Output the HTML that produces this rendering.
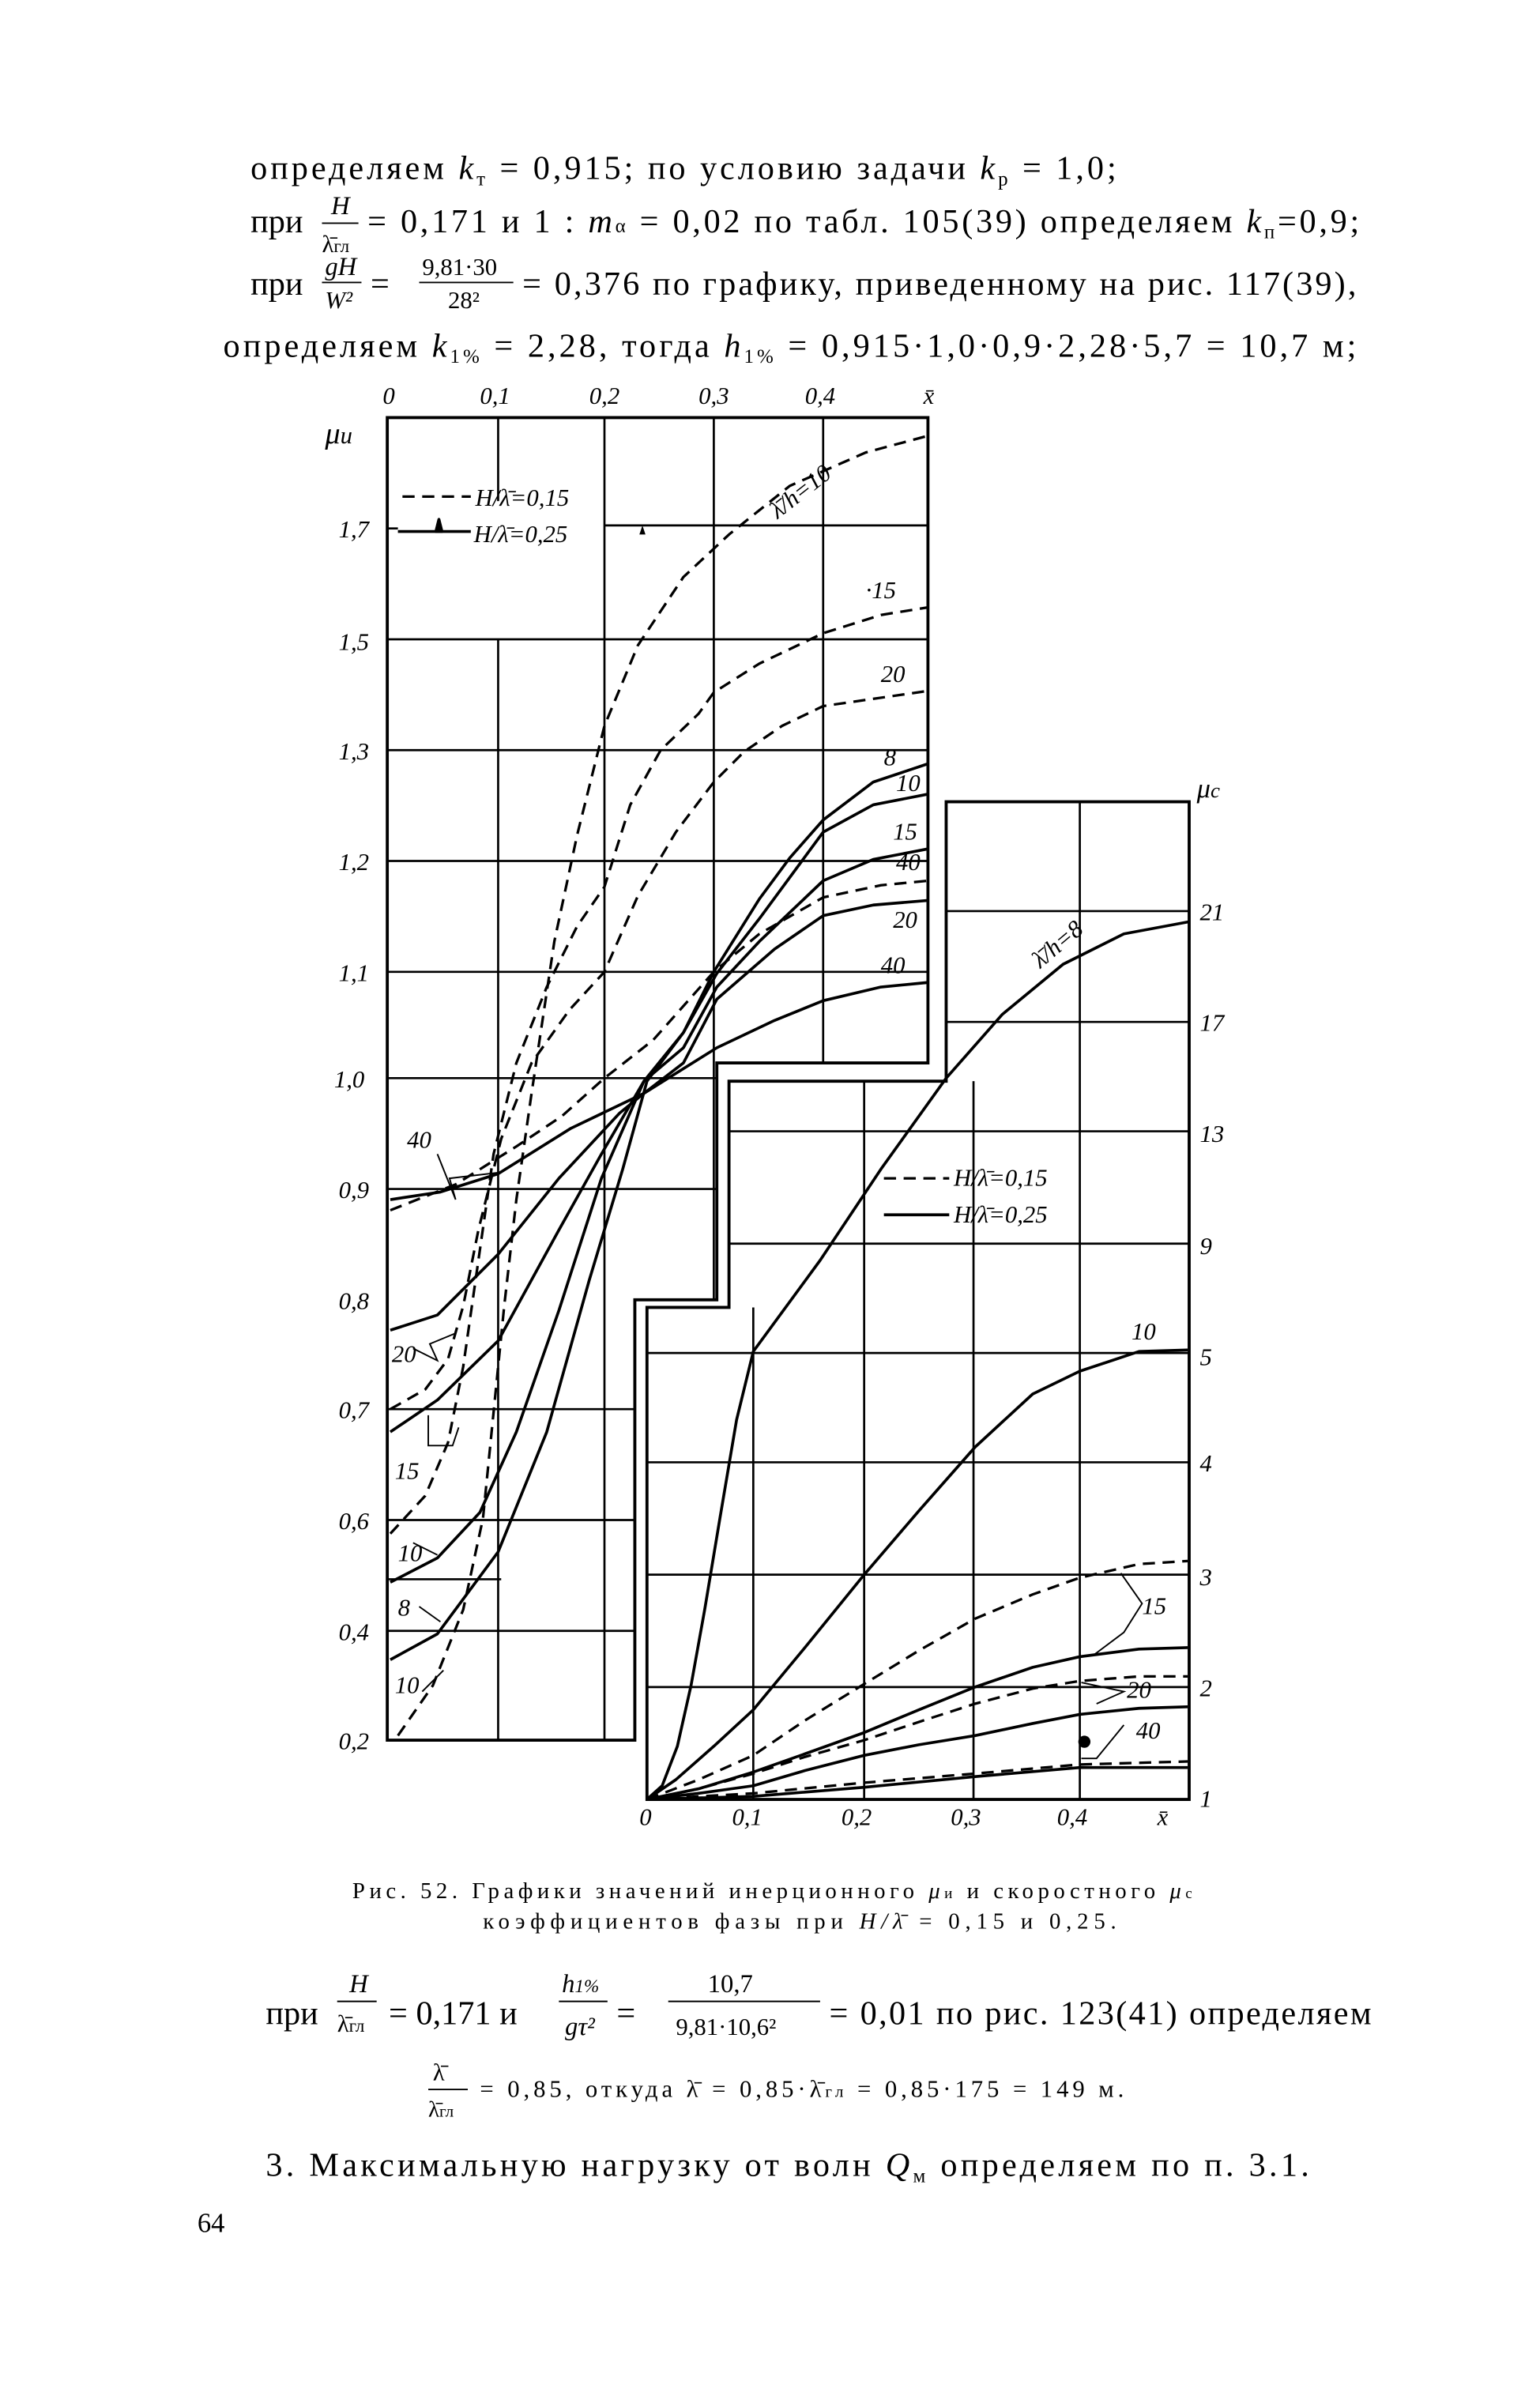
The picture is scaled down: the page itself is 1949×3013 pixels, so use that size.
<!DOCTYPE html>
<html><head><meta charset="utf-8"><style>
html,body{margin:0;padding:0;background:#fff}
svg{display:block}
text{font-family:"Liberation Serif",serif;fill:#000}
.i{font-family:"Liberation Sans",sans-serif;font-style:italic}
</style></head><body>
<svg width="1949" height="3013" viewBox="0 0 1014 1568" preserveAspectRatio="none" xmlns="http://www.w3.org/2000/svg">
<g font-size="22">
<text x="165" y="118" textLength="570" lengthAdjust="spacing">определяем <tspan font-style="italic">k</tspan><tspan font-size="13" dy="4">т</tspan><tspan dy="-4"> = 0,915; по условию задачи </tspan><tspan font-style="italic">k</tspan><tspan font-size="13" dy="4">р</tspan><tspan dy="-4"> = 1,0;</tspan></text>
<text x="165" y="153">при</text>
<text x="218" y="141" font-size="17" font-style="italic">H</text>
<line x1="212" y1="147" x2="236" y2="147" stroke="#000" stroke-width="1"/>
<text x="212" y="166" font-size="16">λ̄<tspan font-size="12">гл</tspan></text>
<text x="242" y="153" textLength="653" lengthAdjust="spacing">= 0,171 и 1 : <tspan font-style="italic">m</tspan><tspan font-size="13">α</tspan> = 0,02 по табл. 105(39) определяем <tspan font-style="italic">k</tspan><tspan font-size="13" dy="4">п</tspan><tspan dy="-4">=0,9;</tspan></text>
<text x="165" y="194">при</text>
<text x="214" y="181" font-size="17" font-style="italic">gH</text>
<line x1="212" y1="186" x2="238" y2="186" stroke="#000" stroke-width="1"/>
<text x="214" y="203" font-size="16" font-style="italic">W²</text>
<text x="244" y="194">=</text>
<text x="278" y="181" font-size="16">9,81·30</text>
<line x1="276" y1="186" x2="338" y2="186" stroke="#000" stroke-width="1"/>
<text x="295" y="203" font-size="16">28²</text>
<text x="344" y="194" textLength="549" lengthAdjust="spacing">= 0,376 по графику, приведенному на рис. 117(39),</text>
<text x="147" y="235" textLength="746" lengthAdjust="spacing">определяем  <tspan font-style="italic">k</tspan><tspan font-size="13" dy="4">1%</tspan><tspan dy="-4"> = 2,28,   тогда  </tspan><tspan font-style="italic">h</tspan><tspan font-size="13" dy="4">1%</tspan><tspan dy="-4"> = 0,915·1,0·0,9·2,28·5,7 = 10,7  м;</tspan></text>
</g>

<g stroke="#000" fill="none">
<path d="M255,275 H611 V700 H472 V856 H418 V1146 H255 Z" stroke-width="2"/>
<g stroke-width="1.4">
<line x1="328" y1="275" x2="328" y2="330"/>
<line x1="328" y1="421" x2="328" y2="1146"/>
<line x1="398" y1="275" x2="398" y2="1146"/>
<line x1="470" y1="275" x2="470" y2="856"/>
<line x1="542" y1="275" x2="542" y2="700"/>
<line x1="255" y1="348" x2="262" y2="348"/>
<line x1="398" y1="346" x2="611" y2="346"/>
<line x1="255" y1="421" x2="611" y2="421"/>
<line x1="255" y1="494" x2="611" y2="494"/>
<line x1="255" y1="567" x2="611" y2="567"/>
<line x1="255" y1="640" x2="611" y2="640"/>
<line x1="255" y1="710" x2="472" y2="710"/>
<line x1="255" y1="783" x2="472" y2="783"/>
<line x1="255" y1="928" x2="418" y2="928"/>
<line x1="255" y1="1001" x2="418" y2="1001"/>
<line x1="255" y1="1040" x2="330" y2="1040"/>
<line x1="255" y1="1074" x2="418" y2="1074"/>
</g>
<path d="M623,528 H783 V1185 H426 V861 H480 V712 H623 Z" stroke-width="2"/>
<g stroke-width="1.4">
<line x1="496" y1="861" x2="496" y2="1185"/>
<line x1="569" y1="712" x2="569" y2="1185"/>
<line x1="641" y1="712" x2="641" y2="1185"/>
<line x1="711" y1="528" x2="711" y2="1185"/>
<line x1="623" y1="600" x2="783" y2="600"/>
<line x1="623" y1="673" x2="783" y2="673"/>
<line x1="480" y1="745" x2="783" y2="745"/>
<line x1="480" y1="819" x2="783" y2="819"/>
<line x1="426" y1="891" x2="783" y2="891"/>
<line x1="426" y1="963" x2="783" y2="963"/>
<line x1="426" y1="1037" x2="783" y2="1037"/>
<line x1="426" y1="1111" x2="783" y2="1111"/>
</g>

<g stroke-width="1.7" stroke-dasharray="8 5" stroke-linejoin="round">
<polyline points="262,1143 285,1110 305,1060 318,1000 325,930 332,860 340,790 350,720 365,620 380,550 398,478 420,425 450,380 480,352 520,320 570,298 611,287"/>
<polyline points="257,1010 280,985 295,950 305,900 315,830 325,760 340,700 360,650 380,610 398,584 415,530 435,494 460,470 470,456 500,437 542,417 580,405 611,400"/>
<polyline points="257,928 280,915 295,895 305,860 315,810 330,750 350,700 375,665 398,640 420,590 445,548 470,515 490,495 515,478 542,465 611,455"/>
<polyline points="257,797 300,780 340,755 370,735 398,710 430,685 470,640 500,615 542,591 580,583 611,580"/>
<line x1="265" y1="327" x2="310" y2="327"/>
<polyline points="426,1185 460,1172 496,1156 530,1133 569,1109 605,1087 642,1066 680,1050 711,1039 750,1030 782,1028"/>
<polyline points="426,1185 460,1178 496,1168 530,1157 569,1146 605,1134 642,1122 680,1112 711,1107 750,1104 782,1104"/>
<polyline points="426,1185 496,1181 569,1174 642,1168 711,1162 782,1160"/>
<line x1="582" y1="776" x2="625" y2="776"/>
</g>

<g stroke-width="1.9" stroke-linejoin="round">
<polyline points="257,1093 288,1076 328,1022 360,943 388,843 410,770 426,712 450,680 470,640 500,592 520,565 542,540 575,515 611,503"/>
<polyline points="257,1042 288,1026 316,996 340,943 368,863 396,776 424,712 450,680 472,641 500,605 542,548 575,530 611,523"/>
<polyline points="257,943 288,922 328,883 368,810 396,760 424,712 450,690 472,650 500,620 542,580 575,566 611,559"/>
<polyline points="257,876 288,866 328,826 368,776 408,733 424,720 450,700 472,658 510,625 542,603 575,596 611,593"/>
<polyline points="257,790 290,785 328,773 376,743 424,720 472,690 510,672 542,659 580,650 611,647"/>
<line x1="262" y1="350" x2="310" y2="350"/>
<path d="M287,350 L289,342 L291,350 Z" fill="#000"/>
<polyline points="426,1185 436,1176 446,1150 455,1110 464,1060 474,1000 485,935 496,890 540,830 580,770 623,710 660,668 700,635 740,615 783,607"/>
<polyline points="426,1185 445,1172 470,1150 496,1126 530,1085 569,1037 605,995 642,953 680,918 711,903 750,890 782,889"/>
<polyline points="426,1185 460,1178 496,1167 530,1155 569,1141 605,1126 642,1111 680,1098 711,1091 750,1086 782,1085"/>
<polyline points="426,1185 460,1181 496,1176 530,1166 569,1156 605,1149 642,1143 680,1135 711,1129 750,1125 782,1124"/>
<polyline points="426,1185 496,1183 569,1177 642,1170 711,1164 782,1164"/>
<line x1="582" y1="800" x2="625" y2="800"/>
</g>

<g stroke-width="1">
<polyline points="288,760 300,790 296,776 330,772"/>
<polyline points="272,888 288,896 283,885 300,878"/>
<polyline points="282,932 282,952 298,952 302,940"/>
<polyline points="272,1016 288,1024"/>
<polyline points="276,1058 290,1068"/>
<polyline points="278,1114 292,1100"/>
<polyline points="738,1036 752,1056 740,1075 720,1090"/>
<polyline points="712,1108 740,1114 722,1122"/>
<polyline points="740,1136 722,1158 712,1158"/>
</g>
</g>
<circle cx="714" cy="1147" r="4" fill="#000"/>
<path d="M421,352 l2,-6 l2,6 z" fill="#000"/>

<g class="i" font-size="16">
<text x="252" y="266">0</text><text x="316" y="266">0,1</text><text x="388" y="266">0,2</text><text x="460" y="266">0,3</text><text x="530" y="266">0,4</text><text x="608" y="266">x̄</text>
<text x="214" y="292" font-size="20">μ<tspan font-size="16">u</tspan></text>
<text x="223" y="354">1,7</text><text x="223" y="428">1,5</text><text x="223" y="500">1,3</text><text x="223" y="573">1,2</text><text x="223" y="646">1,1</text><text x="220" y="716">1,0</text><text x="223" y="789">0,9</text><text x="223" y="862">0,8</text><text x="223" y="934">0,7</text><text x="223" y="1007">0,6</text><text x="223" y="1080">0,4</text><text x="223" y="1152">0,2</text>
<text x="313" y="333">H/λ̄=0,15</text>
<text x="312" y="357">H/λ̄=0,25</text>
<text x="0" y="0" transform="translate(512,342) rotate(-38)">λ̄/h=10</text>
<text x="570" y="394">·15</text><text x="580" y="449">20</text><text x="582" y="504">8</text><text x="590" y="521">10</text><text x="588" y="553">15</text><text x="590" y="573">40</text><text x="588" y="611">20</text><text x="580" y="641">40</text>
<text x="268" y="756">40</text><text x="258" y="897">20</text><text x="260" y="974">15</text><text x="262" y="1028">10</text><text x="262" y="1064">8</text><text x="260" y="1115">10</text>
<text x="0" y="0" transform="translate(685,638) rotate(-40)">λ̄/h=8</text>
<text x="628" y="781">H/λ̄=0,15</text>
<text x="628" y="805">H/λ̄=0,25</text>
<text x="745" y="882">10</text><text x="752" y="1063">15</text><text x="742" y="1118">20</text><text x="748" y="1145">40</text>
<text x="788" y="525" font-size="18">μ<tspan font-size="14">c</tspan></text>
<text x="790" y="606">21</text><text x="790" y="679">17</text><text x="790" y="752">13</text><text x="790" y="826">9</text><text x="790" y="899">5</text><text x="790" y="969">4</text><text x="790" y="1044">3</text><text x="790" y="1117">2</text><text x="790" y="1190">1</text>
<text x="421" y="1202">0</text><text x="482" y="1202">0,1</text><text x="554" y="1202">0,2</text><text x="626" y="1202">0,3</text><text x="696" y="1202">0,4</text><text x="762" y="1202">x̄</text>
</g>

<g font-size="15">
<text x="232" y="1250" textLength="553" lengthAdjust="spacing">Рис. 52. Графики значений инерционного <tspan font-style="italic">μ</tspan><tspan font-size="10">и</tspan> и скоростного <tspan font-style="italic">μ</tspan><tspan font-size="10">с</tspan></text>
<text x="318" y="1270" textLength="417" lengthAdjust="spacing">коэффициентов фазы при <tspan font-style="italic">H/λ̄</tspan> = 0,15 и 0,25.</text>
</g>
<g font-size="22">
<text x="175" y="1333">при</text>
<text x="230" y="1312" font-size="17" font-style="italic">H</text>
<line x1="222" y1="1318" x2="248" y2="1318" stroke="#000" stroke-width="1"/>
<text x="222" y="1338" font-size="16">λ̄<tspan font-size="12">гл</tspan></text>
<text x="256" y="1333">= 0,171  и</text>
<text x="370" y="1312" font-size="17" font-style="italic">h<tspan font-size="12">1%</tspan></text>
<line x1="368" y1="1318" x2="400" y2="1318" stroke="#000" stroke-width="1"/>
<text x="372" y="1340" font-size="17" font-style="italic">gτ²</text>
<text x="406" y="1333">=</text>
<text x="466" y="1312" font-size="17">10,7</text>
<line x1="440" y1="1318" x2="540" y2="1318" stroke="#000" stroke-width="1"/>
<text x="445" y="1340" font-size="16">9,81·10,6²</text>
<text x="546" y="1333" textLength="357" lengthAdjust="spacing">= 0,01 по рис. 123(41) определяем</text>
<text x="285" y="1370" font-size="16">λ̄</text>
<line x1="282" y1="1376" x2="308" y2="1376" stroke="#000" stroke-width="1"/>
<text x="282" y="1394" font-size="15">λ̄<tspan font-size="11">гл</tspan></text>
<text x="316" y="1381" font-size="16" textLength="424" lengthAdjust="spacing">= 0,85, откуда λ̄ = 0,85·λ̄<tspan font-size="11">гл</tspan> = 0,85·175 = 149 м.</text>
<text x="175" y="1433" textLength="687" lengthAdjust="spacing">3. Максимальную нагрузку от волн <tspan font-style="italic">Q</tspan><tspan font-size="13" dy="4">м</tspan><tspan dy="-4"> определяем по п. 3.1.</tspan></text>
<text x="130" y="1470" font-size="18">64</text>
</g>
</svg>
</body></html>
